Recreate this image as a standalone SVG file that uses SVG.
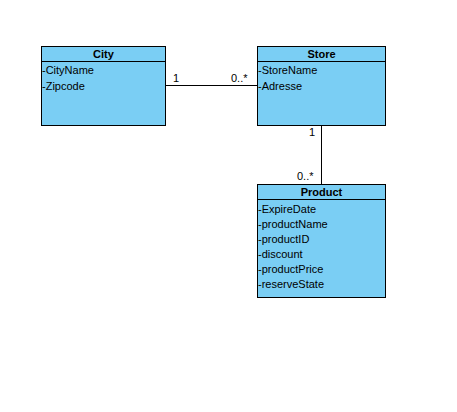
<svg xmlns="http://www.w3.org/2000/svg" width="457" height="412" viewBox="0 0 457 412">
<style>
.box{fill:#7acef4;stroke:#000;stroke-width:1}
.sep{stroke:#000;stroke-width:1}
.t{font-family:"Liberation Sans",Arial,sans-serif;font-size:11px;fill:#000}
.h{font-family:"Liberation Sans",Arial,sans-serif;font-size:11px;font-weight:bold;fill:#000;text-anchor:middle}
.c{stroke:#000;stroke-width:1;fill:none}
</style>
<rect width="457" height="412" fill="#fff"/>
<g id="connectors">
<line class="c" x1="165.5" y1="85.5" x2="257.5" y2="85.5"/>
<line class="c" x1="321.5" y1="125.5" x2="321.5" y2="184.5"/>
<text class="t" x="173" y="82">1</text>
<text class="t" x="231" y="82">0..*</text>
<text class="t" x="309" y="136">1</text>
<text class="t" x="297" y="180">0..*</text>
</g>
<g id="City">
<rect class="box" x="41.5" y="46.5" width="124" height="79"/>
<line class="sep" x1="41.5" y1="61.5" x2="165.5" y2="61.5"/>
<text class="h" x="103.5" y="58">City</text>
<text class="t" x="42" y="73.5">-CityName</text>
<text class="t" x="42" y="89.5">-Zipcode</text>
</g>
<g id="Store">
<rect class="box" x="257.5" y="46.5" width="128" height="79"/>
<line class="sep" x1="257.5" y1="61.5" x2="385.5" y2="61.5"/>
<text class="h" x="321.5" y="58">Store</text>
<text class="t" x="258" y="73.5">-StoreName</text>
<text class="t" x="258" y="89.5">-Adresse</text>
</g>
<g id="Product">
<rect class="box" x="257.5" y="184.5" width="128" height="113"/>
<line class="sep" x1="257.5" y1="199.5" x2="385.5" y2="199.5"/>
<text class="h" x="321.5" y="196">Product</text>
<text class="t" x="258" y="213">-ExpireDate</text>
<text class="t" x="258" y="228">-productName</text>
<text class="t" x="258" y="243">-productID</text>
<text class="t" x="258" y="258">-discount</text>
<text class="t" x="258" y="273">-productPrice</text>
<text class="t" x="258" y="288">-reserveState</text>
</g>
</svg>
